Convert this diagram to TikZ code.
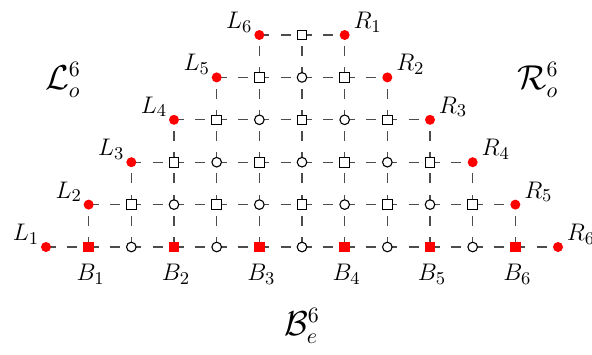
\documentclass[tikz,border=0pt]{standalone}
\pgfdeclarelayer{bg}
\pgfsetlayers{bg,main}
\begin{document}
\begin{tikzpicture}[x=0.5pt,y=-0.5pt,
  dl/.style={draw=black!70, line width=0.65pt, dash pattern=on 5pt off 5.6pt},
  reddot/.style={circle, fill=red, inner sep=0pt, minimum size=5pt},
  redsq/.style={rectangle, fill=red, inner sep=0pt, minimum size=5.3pt},
  opensq/.style={rectangle, draw=black, fill=white, line width=0.5pt, inner sep=0pt, minimum size=4.8pt},
  opencirc/.style={circle, draw=black, fill=white, line width=0.55pt, inner sep=0pt, minimum size=4.8pt},
  lab/.style={inner sep=0pt, font=\fontsize{12.5}{15}\selectfont},
  biglab/.style={inner sep=0pt, font=\fontsize{16}{19}\selectfont}]
\useasboundingbox (0,0) rectangle (592,354);
\foreach \j in {0,...,5} {
  \pgfmathtruncatemacro\lst{12-\j}
  \foreach \i in {\j,...,\lst} {
    \pgfmathsetmacro\xx{46+42.667*\i}
    \pgfmathsetmacro\yy{247-42.4*\j}
    \pgfmathtruncatemacro\pp{mod(\i+\j,2)}
    \ifnum\i=\j
      \node[reddot] (n-\i-\j) at (\xx,\yy) {};
    \else\ifnum\i=\lst
      \node[reddot] (n-\i-\j) at (\xx,\yy) {};
    \else\ifnum\pp=1
      \ifnum\j=0
        \node[redsq] (n-\i-\j) at (\xx,\yy) {};
      \else
        \node[opensq] (n-\i-\j) at (\xx,\yy) {};
      \fi
    \else
      \node[opencirc] (n-\i-\j) at (\xx,\yy) {};
    \fi\fi\fi
  }
}
\begin{pgfonlayer}{bg}
% horizontal connectors
\foreach \j in {0,...,5} {
  \pgfmathtruncatemacro\lst{11-\j}
  \foreach \i in {\j,...,\lst} {
    \pgfmathtruncatemacro\k{\i+1}
    \draw[dl] (n-\i-\j.center) -- (n-\k-\j.center);
  }
}
% vertical connectors
\foreach \j in {1,...,5} {
  \pgfmathtruncatemacro\lst{12-\j}
  \pgfmathtruncatemacro\jm{\j-1}
  \foreach \i in {\j,...,\lst} {
    \draw[dl] (n-\i-\jm.center) -- (n-\i-\j.center);
  }
}
\end{pgfonlayer}
% labels
\foreach \k in {1,...,6} {
  \pgfmathtruncatemacro\a{\k-1}
  \pgfmathtruncatemacro\r{6+\k}
  \pgfmathtruncatemacro\rr{6-\k}
  \pgfmathtruncatemacro\b{2*\k-1}
  \pgfmathsetmacro\lx{46+42.667*\a-20}
  \pgfmathsetmacro\ly{247-42.4*\a-13}
  \node[lab] (L\k) at (\lx,\ly) {$L_{\k}$};
  \pgfmathsetmacro\rx{46+42.667*\r+23}
  \pgfmathsetmacro\ry{247-42.4*\rr-13}
  \node[lab] (R\k) at (\rx,\ry) {$R_{\k}$};
  \pgfmathsetmacro\bx{46+42.667*\b+2}
  \node[lab] (B\k) at (\bx,274) {$B_{\k}$};
}
\node[biglab] (Lo) at (63,80) {$\mathcal{L}_o^6$};
\node[biglab] (Ro) at (538,80) {$\mathcal{R}_o^6$};
\node[biglab] (Be) at (302,326) {$\mathcal{B}_e^6$};
\end{tikzpicture}
\end{document}
